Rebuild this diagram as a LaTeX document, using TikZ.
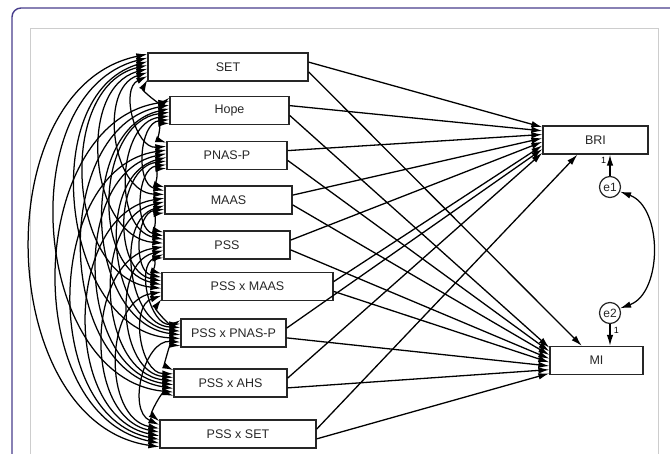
\documentclass[tikz,border=0pt]{standalone}
\usepackage{fontspec}
\setmainfont{Liberation Sans}
\usetikzlibrary{arrows.meta,calc}
\definecolor{framecol}{RGB}{72,62,140}
\definecolor{panelcol}{RGB}{205,205,205}
\tikzset{
  var/.style={draw=black!85, line width=1.3pt, minimum height=28pt, inner sep=0pt,
    text=black!85, font=\fontsize{12.5}{14}\selectfont},
  err/.style={draw=black!85, line width=1.2pt, circle, minimum size=21pt, inner sep=0pt,
    text=black!85, font=\fontsize{12}{13}\selectfont},
  path/.style={->, line width=1.3pt},
  cov/.style={<->, line width=1.25pt},
}
\begin{document}
\begin{tikzpicture}[x=1pt,y=-1pt,>={Latex[length=11pt,width=6.5pt]}]
\useasboundingbox (0,0) rectangle (670,454);
\draw[framecol, line width=1.4pt, rounded corners=9pt] (12,8) rectangle (700,490);
\draw[panelcol, line width=1pt] (30,29) rectangle (658,480);

% predictors
\foreach \n/\x/\y/\w/\t in {0/228/67/160/SET, 1/229.5/110.5/119/Hope,
    2/227/155.5/120/PNAS-P, 3/228.5/200/127/MAAS, 4/227/245/126/PSS,
    5/247.5/286.5/171/PSS x MAAS, 6/233.5/333/105/PSS x PNAS-P,
    7/230.5/383/113/PSS x AHS, 8/238/434/156/PSS x SET}
  \node[var, minimum width=\w pt] (x\n) at (\x,\y) {\t};

% outcomes and errors
\node[var, minimum width=105pt] (bri) at (595.5,140) {BRI};
\node[var, minimum width=93pt] (mi) at (596.5,360.5) {MI};
\node[err] (e1) at (610,187) {e1};
\node[err] (e2) at (610,313) {e2};

% regression paths
\foreach \i in {0,...,7}
  \draw[path] ($(x\i.north east)!1/3!(x\i.south east)$) --
    ($(bri.north west)!{(\i+0.5)/8}!(bri.south west)$);
\foreach \i in {1,...,8}
  \draw[path] ($(x\i.north east)!2/3!(x\i.south east)$) --
    ($(mi.north west)!{(\i-0.5)/8}!(mi.south west)$);
\draw[path] ($(x8.north east)!1/3!(x8.south east)$) -- ($(bri.south west)!0.33!(bri.south east)$);
\draw[path] ($(x0.north east)!2/3!(x0.south east)$) -- ($(mi.north west)!0.344!(mi.north east)$);

\draw[path] (e1) -- node[pos=0.72, left=0pt, font=\fontsize{9}{10}\selectfont] {1} (e1 |- bri.south);
\draw[path] (e2) -- node[pos=0.28, right=0pt, font=\fontsize{9}{10}\selectfont] {1} (e2 |- mi.north);
\draw[cov] (e1.-25) to[bend left=70] (e2.25);

% covariances among predictors
\foreach \i in {0,...,7} {
  \pgfmathtruncatemacro\inext{\i+1}
  \foreach \j in {\inext,...,8} {
    \pgfmathsetmacro\fa{(\i+8-\j+0.5)/8}
    \pgfmathsetmacro\fb{(\j-1-\i+0.5)/8}
    \draw[cov] ($(x\i.north west)!\fa!(x\i.south west)$) to[bend right=80, looseness=1.08]
      ($(x\j.north west)!\fb!(x\j.south west)$);
  }
}
\end{tikzpicture}
\end{document}
